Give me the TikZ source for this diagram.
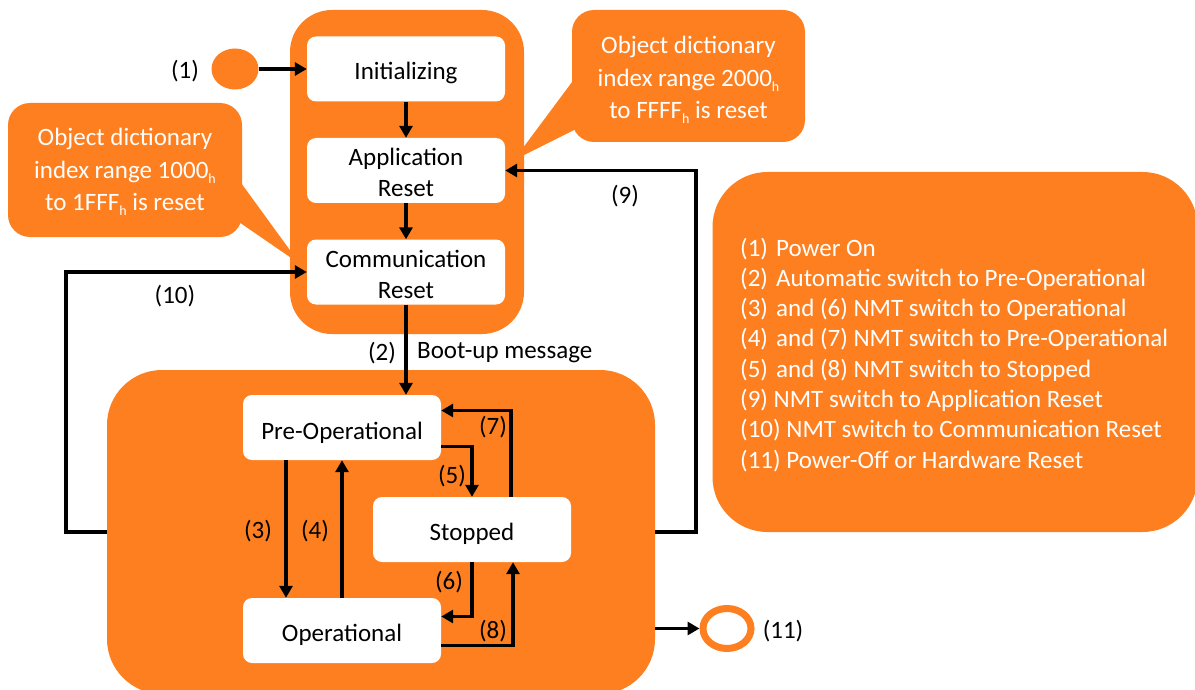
\documentclass[tikz,border=0pt]{standalone}
\usepackage{fontspec}
\setmainfont{Carlito}
\usetikzlibrary{arrows.meta,shapes.geometric,calc}
\definecolor{orng}{RGB}{253,127,31}
% lower a line of text without changing its box
\newcommand\dn[2][3pt]{\raisebox{-#1}[\height][\depth]{#2}}
% small hexadecimal suffix
\newcommand\hx{\raisebox{-5pt}{\fontsize{14}{14}\selectfont h}}
\begin{document}
\begin{tikzpicture}[x=1pt,y=-1pt,
  font=\fontsize{25}{31}\selectfont,
  area/.style={fill=orng, inner sep=0pt},
  state/.style={fill=white, rounded corners=9pt, minimum width=198pt,
    minimum height=65pt, align=center, inner sep=0pt},
  bubble/.style={fill=orng, rounded corners=22pt, text=white, align=center,
    inner sep=0pt, font=\fontsize{25}{32.5}\selectfont},
  link/.style={line width=3.6pt, -{Triangle[length=12pt,width=13pt]}},
  tag/.style={inner sep=0pt},
  legtext/.style={inner sep=0pt, anchor=base west, text=white,
    font=\fontsize{25}{30}\selectfont},
]
\useasboundingbox (0,0) rectangle (1195,690);

% orange background areas
\node[area, rounded corners=42pt, minimum width=234pt, minimum height=324pt] (upper) at (407,172) {};
\node[area, rounded corners=55pt, minimum width=548pt, minimum height=324pt] (lower) at (381,532) {};
\node[area, rounded corners=55pt, minimum width=485pt, minimum height=360pt] (legend) at (955,352) {};

% callouts
\node[bubble, minimum width=234pt, minimum height=134pt] (noteL) at (125,170)
  {\dn[2pt]{Object dictionary}\\\dn[2pt]{index range 1000\hx}\\\dn[2pt]{to 1FFF\hx{} is reset}};
\node[bubble, minimum width=233pt, minimum height=132pt] (noteR) at (688.5,76)
  {\dn[4pt]{Object dictionary}\\\dn[4pt]{index range 2000\hx}\\\dn[4pt]{to FFFF\hx{} is reset}};
\fill[orng] (236,176) -- (300,264) -- (236,220) -- cycle;
\fill[orng] (578,74) -- (514,160) -- (578,128) -- cycle;

% states
\node[state] (init) at (406,69) {\dn[4pt]{Initializing}};
\node[state] (appr) at (406,170.5) {\dn[2pt]{Application}\\\dn[2pt]{Reset}};
\node[state] (comr) at (406,272) {\dn[2pt]{Communication}\\\dn[2pt]{Reset}};
\node[state] (preop) at (342,427.5) {\dn[5pt]{Pre-Operational}};
\node[state] (stop) at (472,529.5) {\dn[4pt]{Stopped}};
\node[state] (op) at (342,630.5) {\dn[4pt]{Operational}};

% power on / power off
\node[ellipse, fill=orng, minimum width=47pt, minimum height=41pt, inner sep=0pt] (on) at (235,69) {};
\node[ellipse, draw=orng, line width=7pt, minimum width=48pt, minimum height=40pt, inner sep=0pt] (off) at (727,628.5) {};

% transitions
\draw[link] (on) -- (init);
\draw[link] (init) -- (appr);
\draw[link] (appr) -- (comr);
\draw[link] (comr.south) -- (comr.south |- preop.north);
\draw[link] ([xshift=-56pt]preop.south) -- ([xshift=-56pt]op.north);
\draw[link] (op.north) -- (preop.south);
\draw[link] ([yshift=-19pt]preop.east) -| (stop.north);
\draw[link] ([xshift=39pt]stop.north) |- ([yshift=17pt]preop.east);
\draw[link] (stop.south) |- ([yshift=14pt]op.east);
\draw[link] ([yshift=-15pt]op.east) -| ([xshift=41pt]stop.south);
\draw[link] (lower.east) -- ++(41,0) |- (appr.east);
\draw[link] (lower.west) -- ++(-41,0) |- (comr.west);
\draw[link] (lower.east |- off.west) -- (off.west);

% transition labels
\node[tag] (t1) at (185,71) {(1)};
\node[tag] (t2) at (382,353) {(2)};
\node[tag, anchor=west] (boot) at (417,353) {Boot-up message};
\node[tag] (t3) at (258,531) {(3)};
\node[tag] (t4) at (315,531) {(4)};
\node[tag] (t5) at (452,476) {(5)};
\node[tag] (t6) at (449,582) {(6)};
\node[tag] (t7) at (493,427) {(7)};
\node[tag] (t8) at (493,631) {(8)};
\node[tag] (t9) at (625,196) {(9)};
\node[tag] (t10) at (175,296) {(10)};
\node[tag] (t11) at (783,631) {(11)};

% legend
\node[legtext] (leg1) at (740,256) {\makebox[36pt][l]{(1)}Power On};
\node[legtext] (leg2) at (740,286.3) {\makebox[36pt][l]{(2)}Automatic switch to Pre-Operational};
\node[legtext] (leg3) at (740,316.6) {\makebox[36pt][l]{(3)}and (6) NMT switch to Operational};
\node[legtext] (leg4) at (740,346.9) {\makebox[36pt][l]{(4)}and (7) NMT switch to Pre-Operational};
\node[legtext] (leg5) at (740,377.2) {\makebox[36pt][l]{(5)}and (8) NMT switch to Stopped};
\node[legtext] (leg6) at (740,407.5) {(9) NMT switch to Application Reset};
\node[legtext] (leg7) at (740,437.8) {(10) NMT switch to Communication Reset};
\node[legtext] (leg8) at (740,468.1) {(11) Power-Off or Hardware Reset};
\end{tikzpicture}
\end{document}
